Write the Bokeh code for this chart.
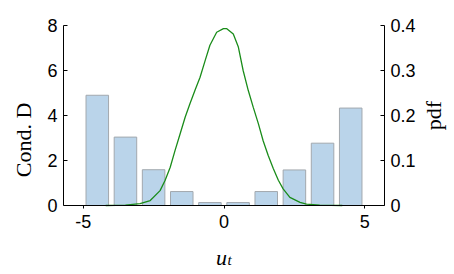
import math
from bokeh.plotting import figure
from bokeh.models import Range1d, LinearAxis, FixedTicker, CustomJSTickFormatter, Label
from bokeh.embed import file_html
from bokeh.resources import INLINE

# ---- data ----
bin_centers = [-4.5, -3.5, -2.5, -1.5, -0.5, 0.5, 1.5, 2.5, 3.5, 4.5]
cond_d = [4.9, 3.04, 1.59, 0.62, 0.13, 0.13, 0.62, 1.58, 2.77, 4.33]

pdf_u = [-4.2, -3.5, -2.98, -2.62, -2.27, -2.09, -1.91, -1.74, -1.56, -1.38, -1.21,
         -1.03, -0.85, -0.67, -0.50, -0.26, -0.02, 0.10, 0.33, 0.51, 0.68, 0.86, 1.04,
         1.22, 1.39, 1.57, 1.75, 1.93, 2.10, 2.34, 2.70, 2.93, 3.4, 4.2]
pdf_v = [0.0, 0.001, 0.004, 0.011, 0.033, 0.056, 0.085, 0.122, 0.159, 0.196, 0.226,
         0.256, 0.285, 0.322, 0.356, 0.385, 0.393, 0.393, 0.381, 0.352, 0.300, 0.256, 0.218,
         0.182, 0.144, 0.111, 0.082, 0.056, 0.037, 0.018, 0.007, 0.003, 0.001, 0.0]

x_ticks = [-5, 0, 5]
left_ticks = [0, 2, 4, 6, 8]
right_ticks = [0, 0.1, 0.2, 0.3, 0.4]
x_lo, x_hi = -5.7, 5.7
left_hi, right_hi = 8, 0.4

SANS = "Liberation Sans"
SERIF = "Liberation Serif"

# frame extends around the axes box so that the x-label, the right tick
# labels and the right label all live inside it
PLOT_W = 321
PLOT_H = 180
EXTRA_B = 69
EXTRA_R = 70
EXTRA_T = 20
TOP = 25
px_x = PLOT_W / (x_hi - x_lo)
px_y = PLOT_H / left_hi

p = figure(width=454, height=274, frame_width=PLOT_W + EXTRA_R,
           frame_height=PLOT_H + EXTRA_B + EXTRA_T,
           output_backend="svg", toolbar_location=None,
           x_range=Range1d(x_lo, x_hi + EXTRA_R / px_x),
           y_range=Range1d(-left_hi * EXTRA_B / PLOT_H, left_hi * (1 + EXTRA_T / PLOT_H)),
           x_axis_location=None, y_axis_location=None,
           min_border_left=63, min_border_right=0, min_border_top=TOP - EXTRA_T,
           min_border_bottom=0)
p.extra_y_ranges = {"pdf": Range1d(-right_hi * EXTRA_B / PLOT_H,
                                   right_hi * (1 + EXTRA_T / PLOT_H))}
p.outline_line_color = None
p.grid.visible = False
p.background_fill_color = "white"
p.border_fill_color = "white"

p.vbar(x=bin_centers, top=cond_d, width=0.8, fill_color="#bad4ea",
       line_color="#a2a8ae", line_width=1)
p.line(pdf_u, pdf_v, y_range_name="pdf", line_color="#1a8c1a", line_width=1.3)

def style(ax, tick_in, tick_out):
    ax.major_label_text_font = SANS
    ax.major_label_text_font_size = "18px"
    ax.major_label_text_color = "black"
    ax.axis_line_color = "black"
    ax.axis_line_width = 1
    ax.major_tick_line_color = "black"
    ax.major_tick_in = tick_in
    ax.major_tick_out = tick_out
    ax.minor_tick_line_color = None
    ax.axis_label_text_font = SERIF
    ax.axis_label_text_font_size = "22px"
    ax.axis_label_text_font_style = "normal"
    ax.axis_label_text_color = "black"

xa = LinearAxis(ticker=FixedTicker(ticks=x_ticks), fixed_location=0, bounds=(x_lo, x_hi),
                formatter=CustomJSTickFormatter(code="return tick.toString();"))
style(xa, 0, 3)
xa.major_label_standoff = 6
p.add_layout(xa, "below")

ya = LinearAxis(ticker=FixedTicker(ticks=left_ticks), bounds=(0, left_hi))
style(ya, 4, 0)
ya.axis_label = "Cond. D"
ya.major_label_standoff = 6
ya.axis_label_standoff = 8
p.add_layout(ya, "left")

ra = LinearAxis(y_range_name="pdf", ticker=FixedTicker(ticks=right_ticks),
                bounds=(0, right_hi), fixed_location=x_hi,
                formatter=CustomJSTickFormatter(code="return tick == 0 ? '0' : tick.toFixed(1);"))
style(ra, 4, 0)
ra.major_label_standoff = 6
p.add_layout(ra, "right")

# right label "pdf"
p.add_layout(Label(x=x_hi, y=right_hi / 2, y_range_name="pdf", x_offset=49, text="pdf",
                   angle=math.pi / 2, text_font=SERIF, text_font_size="22px",
                   text_color="black", text_align="center", text_baseline="middle"))

# x-axis label u_t
p.add_layout(Label(x=0, y=-52 / px_y, x_offset=-2.5, text="u", text_font=SERIF,
                   text_font_size="22px", text_font_style="italic", text_color="black",
                   text_align="center", text_baseline="alphabetic"))
p.add_layout(Label(x=0, y=-54 / px_y, x_offset=3.5, text="t", text_font=SERIF,
                   text_font_size="15px", text_font_style="italic", text_color="black",
                   text_align="left", text_baseline="alphabetic"))

open("out.html", "w").write(file_html(p, INLINE))
